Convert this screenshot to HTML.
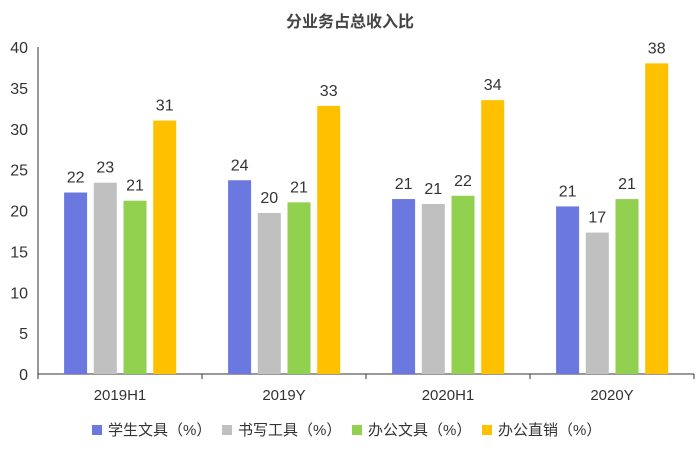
<!DOCTYPE html>
<html><head><meta charset="utf-8"><style>
body{margin:0;background:#fff;font-family:"Liberation Sans","Noto Sans CJK SC",sans-serif}
svg text{font-family:"Liberation Sans","Noto Sans CJK SC",sans-serif}
</style></head><body>
<svg id="c" width="700" height="451"></svg>
<script>
const categories=["2019H1","2019Y","2020H1","2020Y"];
const seriesNames=["学生文具（%）","书写工具（%）","办公文具（%）","办公直销（%）"];
const s1=[22.2,23.7,21.4,20.5];
const s2=[23.4,19.7,20.8,17.3];
const s3=[21.2,21.0,21.8,21.4];
const s4=[31.0,32.8,33.5,38.0];
const yTicks=[0,5,10,15,20,25,30,35,40];
const colors=["#6b78df","#c0c0c0","#92d050","#ffc000"];
const series=[s1,s2,s3,s4];
const svg=document.getElementById('c');const NS="http://www.w3.org/2000/svg";
function el(t,a,txt){const e=document.createElementNS(NS,t);for(const k in a)e.setAttribute(k,a[k]);if(txt!==undefined)e.textContent=txt;svg.appendChild(e);return e;}
const x0=38,x1=694,y0=374,y1=47;
const y=v=>y0-(v/40)*(y0-y1);
const gw=(x1-x0)/categories.length;
let t=el('text',{x:350,y:27,'text-anchor':'middle','font-size':16,'font-weight':'bold',fill:'#444'},'分业务占总收入比');

yTicks.forEach(v=>{const e=el('text',{x:28,y:y(v)+6,'text-anchor':'end','font-size':16,fill:'#333'},v);
});
let ax=el('line',{x1:x0,y1:y1,x2:x0,y2:y0,stroke:'#333','stroke-width':1});

let bx=el('line',{x1:x0,y1:y0,x2:x1,y2:y0,stroke:'#333','stroke-width':1});

for(let i=0;i<=categories.length;i++){const tk=el('line',{x1:x0+i*gw,y1:y0,x2:x0+i*gw,y2:y0+5,stroke:'#333'});
}
const bw=23,pitch=29.7;
categories.forEach((c,i)=>{const cx=x0+gw*(i+0.5);
const l=el('text',{x:cx,y:400,'text-anchor':'middle','font-size':15,fill:'#333'},c);

series.forEach((s,j)=>{const bxp=cx+(j-2)*pitch+3.5;const v=s[i];
const r=el('rect',{x:bxp,y:y(v),width:bw,height:y0-y(v),fill:colors[j]});

const lb=el('text',{x:bxp+bw/2,y:y(v)-10,'text-anchor':'middle','font-size':16,fill:'#333'},Math.round(v));
});});
const lx=[92,222,352,482];
seriesNames.forEach((n,j)=>{const r=el('rect',{x:lx[j],y:425,width:10,height:10,fill:colors[j]});

const tt=el('text',{x:lx[j]+16,y:435,'font-size':15,fill:'#333'},n);
});
</script>
</body></html>
